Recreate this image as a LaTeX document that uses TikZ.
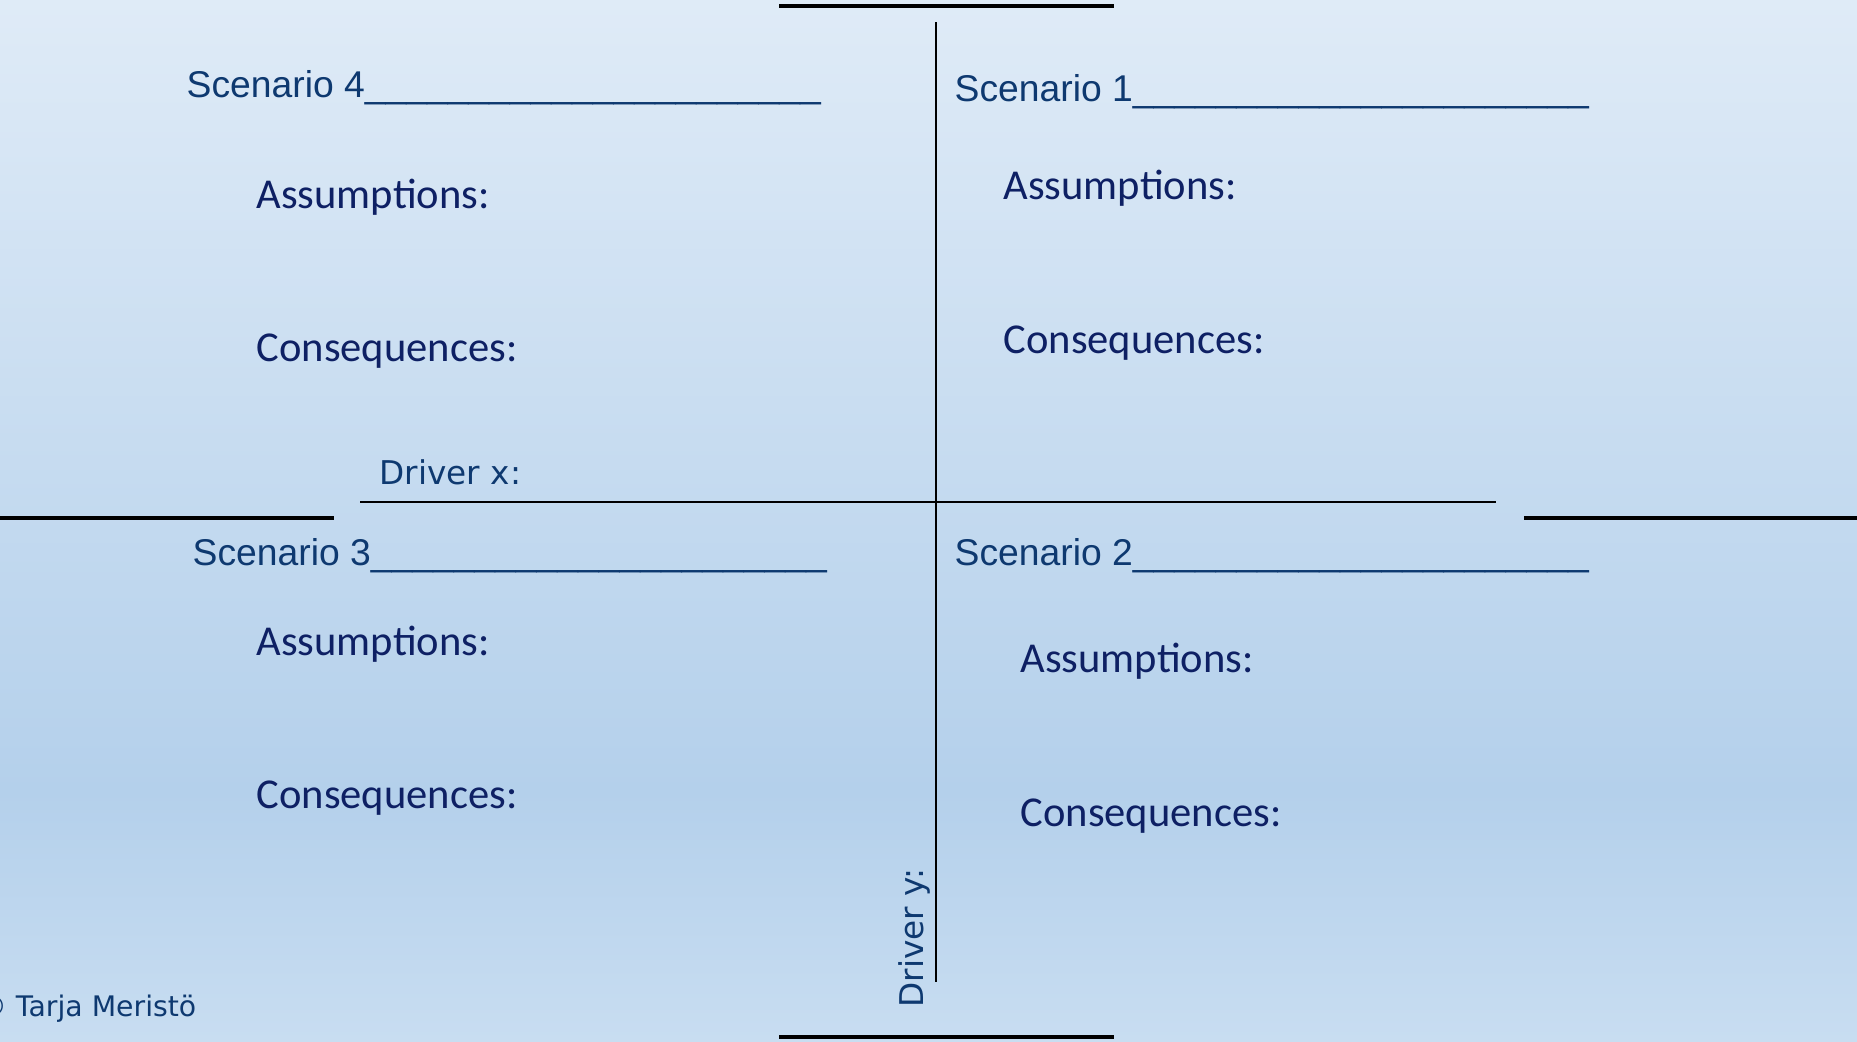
\documentclass[tikz,border=0pt]{standalone}
\usepackage{fontspec}
\setmainfont{Carlito}
\newfontfamily\arialfont{Liberation Sans}
\newfontfamily\tahomafont{DejaVu Sans}
\usetikzlibrary{positioning}
\definecolor{bgtop}{RGB}{223,235,247}
\definecolor{bgmid}{RGB}{180,208,235}
\definecolor{bgbot}{RGB}{200,221,241}
\definecolor{scentext}{RGB}{14,57,112}
\definecolor{itemtext}{RGB}{14,32,100}
\pgfdeclareverticalshading{bgshade}{100bp}{color(0bp)=(bgbot); color(25bp)=(bgbot); color(37bp)=(bgmid); color(75bp)=(bgtop); color(100bp)=(bgtop)}
\newcommand{\fillin}{\_\_\_\_\_\_\_\_\_\_\_\_\_\_\_\_\_\_\_\_\_\_}
\tikzset{scen/.style={anchor=base west,inner sep=0pt,text=scentext,font=\arialfont\fontsize{10.6}{12}\selectfont},
         item/.style={anchor=base west,inner sep=0pt,text=itemtext,font=\fontsize{12.1}{14}\selectfont},
         driver/.style={anchor=base west,inner sep=0pt,text=scentext,font=\tahomafont\fontsize{9.3}{11}\selectfont},
         axis/.style={line width=0.6pt},
         bar/.style={line width=1.2pt},
        }

\begin{document}
\begin{tikzpicture}[x=0.01cm,y=-0.01cm]
        \useasboundingbox(0,0)rectangle(1857,1041);
        \shade[shading=bgshade](0,0)rectangle(1857,1041);

        \coordinate(tl)at(779,6);
        \coordinate(tr)at(1114,6);
        \coordinate(bl)at(779,1037);
        \coordinate(br)at(1114,1037);
        \coordinate(ll)at(0,518);
        \coordinate(lr)at(334,518);
        \coordinate(rl)at(1524,518);
        \coordinate(rr)at(1857,518);
        \coordinate(xl)at(360,502);
        \coordinate(xr)at(1496,502);
        \coordinate(yt)at(936,22);
        \coordinate(yb)at(936,982);

        \draw[bar](tl)--(tr);
        \draw[bar](bl)--(br);
        \draw[bar](ll)--(lr);
        \draw[bar](rl)--(rr);
        \draw[axis](xl)--(xr);
        \draw[axis](yt)--(yb);

        \node[scen](s4)at(186,97){Scenario 4\fillin};
        \node[item](a4)at(256,208){Assumptions:};
        \node[item](c4)at(256,361){Consequences:};

        \node[scen](s1)at(954,101){Scenario 1\fillin};
        \node[item](a1)at(1003,199){Assumptions:};
        \node[item](c1)at(1003,353){Consequences:};

        \node[scen](s3)at(192,565){Scenario 3\fillin};
        \node[item](a3)at(256,655){Assumptions:};
        \node[item](c3)at(256,808){Consequences:};

        \node[scen](s2)at(954,565){Scenario 2\fillin};
        \node[item](a2)at(1020,672){Assumptions:};
        \node[item](c2)at(1020,826){Consequences:};

        \node[driver](dx)at(379,484){Driver x:};
        \node[driver,rotate=90](dy)at(923,1008){Driver y:};
        \node[driver,anchor=base east,font=\tahomafont\fontsize{8.05}{10}\selectfont](cr)at(197,1016){© Tarja Meristö};
    \end{tikzpicture}
\end{document}
